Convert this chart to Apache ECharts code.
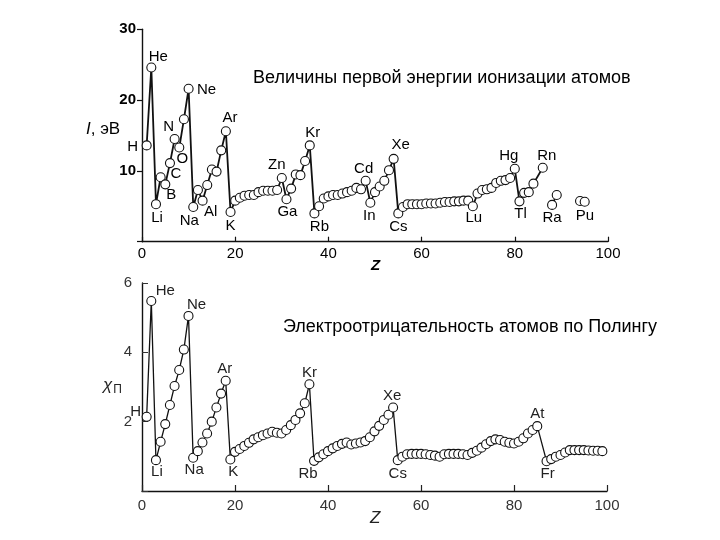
<!DOCTYPE html>
<html><head><meta charset="utf-8">
<script src="https://cdn.jsdelivr.net/npm/echarts@6/dist/echarts.min.js"></script>
<style>html,body{margin:0;padding:0;background:#fff}#c{width:720px;height:540px}</style>
</head><body><div id="c"></div>
<script>
// ---- Top panel: first ionization energy (eV) vs Z ----
const ionZ = [1,2,3,4,5,6,7,8,9,10,11,12,13,14,15,16,17,18,19,20,21,22,23,24,25,26,27,28,29,30,31,32,33,34,35,36,37,38,39,40,41,42,43,44,45,46,47,48,49,50,51,52,53,54,55,56,57,58,59,60,61,62,63,64,65,66,67,68,69,70,71,72,73,74,75,76,77,78,79,80,81,82,83,84,86];
const ionE = [13.6,24.6,5.3,9.1,8.1,11.1,14.5,13.3,17.3,21.6,4.9,7.3,5.8,8.0,10.2,9.9,12.9,15.6,4.2,5.8,6.2,6.5,6.6,6.6,7.0,7.2,7.2,7.2,7.3,9.0,6.0,7.5,9.5,9.4,11.4,13.6,4.0,5.0,6.1,6.4,6.6,6.6,6.8,7.0,7.2,7.6,7.4,8.6,5.5,7.0,7.8,8.6,10.1,11.7,4.0,4.9,5.3,5.3,5.3,5.3,5.4,5.4,5.4,5.5,5.6,5.6,5.7,5.7,5.8,5.8,5.0,6.8,7.3,7.4,7.6,8.3,8.6,8.7,9.0,10.3,5.7,6.9,7.0,8.2,10.45];
const ionZ2 = [88, 89];
const ionE2 = [5.2, 6.6];
const ionZ3 = [94, 95];
const ionE3 = [5.75, 5.65];
const ionLabelZ = [1,2,3,5,6,7,8,10,11,13,18,19,30,31,36,37,48,49,54,55,71,80,81,86,88,94];
const ionLabelNames = ['H','He','Li','B','C','N','O','Ne','Na','Al','Ar','K','Zn','Ga','Kr','Rb','Cd','In','Xe','Cs','Lu','Hg','Tl','Rn','Ra','Pu'];

// ---- Bottom panel: electronegativity vs Z ----
const enZ = [1,2,3,4,5,6,7,8,9,10,11,12,13,14,15,16,17,18,19,20,21,22,23,24,25,26,27,28,29,30,31,32,33,34,35,36,37,38,39,40,41,42,43,44,45,46,47,48,49,50,51,52,53,54,55,56,57,58,59,60,61,62,63,64,65,66,67,68,69,70,71,72,73,74,75,76,77,78,79,80,81,82,83,84,85,87,88,89,90,91,92,93,94,95,96,97,98,99];
const enV = [2.14,5.48,0.89,1.42,1.93,2.48,3.03,3.49,4.08,5.05,0.96,1.15,1.40,1.66,2.00,2.41,2.81,3.18,0.91,1.13,1.21,1.30,1.39,1.49,1.55,1.61,1.66,1.71,1.68,1.66,1.76,1.90,2.05,2.24,2.53,3.08,0.87,0.97,1.06,1.15,1.23,1.30,1.36,1.40,1.34,1.37,1.40,1.44,1.55,1.72,1.88,2.05,2.20,2.41,0.89,0.99,1.06,1.07,1.07,1.07,1.06,1.04,1.02,0.99,1.06,1.07,1.07,1.07,1.06,1.04,1.10,1.16,1.25,1.35,1.44,1.49,1.47,1.42,1.39,1.37,1.42,1.52,1.66,1.76,1.87,0.86,0.92,0.99,1.04,1.11,1.18,1.18,1.18,1.18,1.17,1.16,1.16,1.15];
const enLabelZ = [1,2,3,10,11,18,19,36,37,54,55,85,87];
const enLabelNames = ['H','He','Li','Ne','Na','Ar','K','Kr','Rb','Xe','Cs','At','Fr'];

const xTicks = [0,20,40,60,80,100];
const ionTicks = [0,10,20,30];
const enTicks = [0,2,4,6];
const titleTop = 'Величины первой энергии ионизации атомов';
const titleBottom = 'Электроотрицательность атомов по Полингу';

// ---- styles (label offsets in px, relative to the point) ----
const ionOffset = {H:[-14,1],He:[7,-11],Li:[1,14],B:[6,11],C:[6,11],N:[-6,-12],O:[3,11],Ne:[18,1],Na:[-4,14],Al:[8,11],Ar:[4,-13],K:[0,14],Zn:[-5,-13],Ga:[1,13],Kr:[3,-13],Rb:[5,13],Cd:[-2,-12],In:[-1,13],Xe:[7,-14],Cs:[0,13],Lu:[1,12],Hg:[-6,-13],Tl:[1,13],Rn:[4,-12],Ra:[0,13],Pu:[5,15]};
const enOffset = {H:[-11,-5],He:[14,-10],Li:[1,12],Ne:[8,-11],Na:[1,12],Ar:[-1,-12],K:[3,12],Kr:[0,-11],Rb:[-6,13],Xe:[-1,-12],Cs:[0,14],At:[0,-12],Fr:[1,13]};
const FONT = '"Liberation Sans", Arial, sans-serif';

function buildData(zs, vs, lz, ln, offs, color) {
  return zs.map((z, i) => {
    const k = lz.indexOf(z);
    const item = { value: [z, vs[i]] };
    if (k >= 0) {
      const nm = ln[k];
      item.label = { show: true, position: 'inside', offset: offs[nm], formatter: nm,
        color: color, fontSize: 15, fontFamily: FONT, align: 'center', verticalAlign: 'middle' };
    }
    return item;
  });
}

const symStyle = { color: '#fff', borderColor: '#111', borderWidth: 1.1 };
function lineSeries(data, xi, lw) {
  return { type: 'line', xAxisIndex: xi, yAxisIndex: xi, data: data, symbol: 'circle', symbolSize: 9,
    showAllSymbol: true, itemStyle: symStyle, lineStyle: { color: '#111', width: lw },
    label: { show: false }, emphasis: { disabled: true }, animation: false, z: 3 };
}

const axisCommon = (min, max, interval) => ({
  type: 'value', min: min, max: max, interval: interval,
  axisLine: { show: true, lineStyle: { color: '#111', width: 1.4 } },
  splitLine: { show: false }
});

const chart = echarts.init(document.getElementById('c'), null, { renderer: 'canvas' });
chart.setOption({
  backgroundColor: '#fff',
  animation: false,
  grid: [
    { left: 142, width: 466, top: 29.3, height: 212.4 },
    { left: 142, width: 465, top: 283, height: 208 }
  ],
  xAxis: [
    Object.assign(axisCommon(0, 100, 20), { gridIndex: 0,
      axisTick: { show: true, inside: true, length: 5, lineStyle: { color: '#111', width: 1.2 } },
      axisLabel: { margin: 5, fontSize: 15, color: '#000', fontFamily: FONT,
        formatter: v => xTicks.indexOf(v) >= 0 ? String(v) : '' } }),
    Object.assign(axisCommon(0, 100, 20), { gridIndex: 1,
      axisTick: { show: true, inside: true, length: 6, lineStyle: { color: '#222', width: 1.2 } },
      axisLabel: { margin: 7, fontSize: 15, color: '#333', fontFamily: FONT,
        formatter: v => xTicks.indexOf(v) >= 0 ? String(v) : '' } })
  ],
  yAxis: [
    Object.assign(axisCommon(0, 30, 10), { gridIndex: 0,
      axisTick: { show: true, length: 5, lineStyle: { color: '#111', width: 1.2 } },
      axisLabel: { margin: 6, fontSize: 15, color: '#000', fontFamily: FONT, fontWeight: 'bold',
        formatter: v => (ionTicks.indexOf(v) > 0 ? String(v) : '') } }),
    Object.assign(axisCommon(0, 6, 2), { gridIndex: 1,
      axisTick: { show: true, inside: true, length: 6, lineStyle: { color: '#333', width: 1 } },
      axisLabel: { margin: 10, fontSize: 15, color: '#333', fontFamily: FONT,
        formatter: v => (enTicks.indexOf(v) > 0 ? String(v) : '') } })
  ],
  graphic: [
    { type: 'text', left: 253, top: 69, style: { text: titleTop, font: '18px ' + FONT, fill: '#000' } },
    { type: 'text', left: 283, top: 318, style: { text: titleBottom, font: '18px ' + FONT, fill: '#000' } },
    { type: 'text', left: 86, top: 121, style: { text: '{i|I}, эВ',
        rich: { i: { font: 'italic 17px ' + FONT, fill: '#000' } }, font: '17px ' + FONT, fill: '#000' } },
    { type: 'text', left: 103, top: 377, style: { text: '{a|χ}{b|П}',
        rich: { a: { font: 'italic 17px ' + FONT, fill: '#222' }, b: { font: '12px ' + FONT, fill: '#222', padding: [8, 0, 0, 1] } } } },
    { type: 'text', left: 371, top: 258, style: { text: 'Z', font: 'italic bold 15px ' + FONT, fill: '#000' } },
    { type: 'text', left: 370, top: 510, style: { text: 'Z', font: 'italic 17px ' + FONT, fill: '#222' } }
  ],
  series: [
    lineSeries(buildData(ionZ, ionE, ionLabelZ, ionLabelNames, ionOffset, '#000'), 0, 1.8),
    lineSeries(buildData(ionZ2, ionE2, ionLabelZ, ionLabelNames, ionOffset, '#000'), 0, 1.8),
    lineSeries(buildData(ionZ3, ionE3, ionLabelZ, ionLabelNames, ionOffset, '#000'), 0, 1.8),
    lineSeries(buildData(enZ, enV, enLabelZ, enLabelNames, enOffset, '#222'), 1, 1.3)
  ]
});
</script>
</body></html>
